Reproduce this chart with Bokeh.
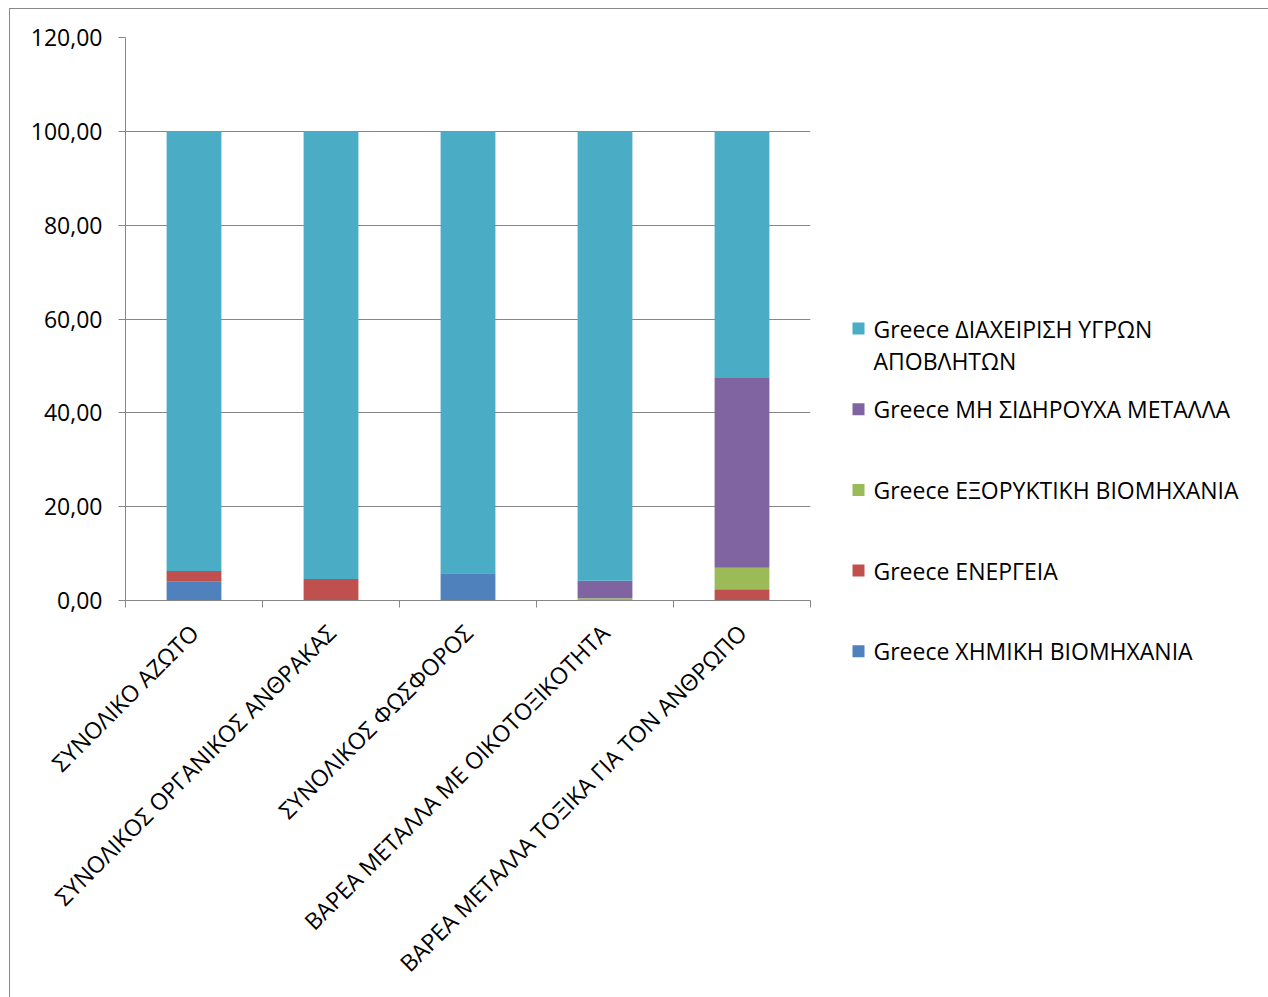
from bokeh.plotting import figure
from bokeh.layouts import row
from bokeh.models import FixedTicker, CustomJSTickFormatter, Range1d, ColumnDataSource
from bokeh.core.properties import value
from bokeh.embed import file_html
from bokeh.resources import INLINE
import math

categories = ["ΣΥΝΟΛΙΚΟ ΑΖΩΤΟ", "ΣΥΝΟΛΙΚΟΣ ΟΡΓΑΝΙΚΟΣ ΑΝΘΡΑΚΑΣ", "ΣΥΝΟΛΙΚΟΣ ΦΩΣΦΟΡΟΣ",
              "ΒΑΡΕΑ ΜΕΤΑΛΛΑ ΜΕ ΟΙΚΟΤΟΞΙΚΟΤΗΤΑ", "ΒΑΡΕΑ ΜΕΤΑΛΛΑ ΤΟΞΙΚΑ ΓΙΑ ΤΟΝ ΑΝΘΡΩΠΟ"]
chemical = [4.0, 0.0, 5.8, 0.0, 0.0]
energy = [2.3, 4.6, 0.0, 0.1, 2.4]
mining = [0.0, 0.0, 0.0, 0.4, 4.6]
nonferrous = [0.0, 0.0, 0.0, 3.7, 40.4]
wastewater = [93.7, 95.4, 94.2, 95.8, 52.6]

series_names = ["Greece ΧΗΜΙΚΗ ΒΙΟΜΗΧΑΝΙΑ", "Greece ΕΝΕΡΓΕΙΑ", "Greece ΕΞΟΡΥΚΤΙΚΗ ΒΙΟΜΗΧΑΝΙΑ",
                "Greece ΜΗ ΣΙΔΗΡΟΥΧΑ ΜΕΤΑΛΛΑ", "Greece ΔΙΑΧΕΙΡΙΣΗ ΥΓΡΩΝ\nΑΠΟΒΛΗΤΩΝ"]
colors = ["#4F81BD", "#C0504D", "#9BBB59", "#8064A2", "#4BACC6"]
y_ticks = [0, 20, 40, 60, 80, 100, 120]

FONT = "Open Sans"
GRAY = "#868686"
FS = "23px"

positions = [i + 0.5 for i in range(len(categories))]
keys = ["chemical", "energy", "mining", "nonferrous", "wastewater"]
source = ColumnDataSource(dict(x=positions, chemical=chemical, energy=energy, mining=mining,
                               nonferrous=nonferrous, wastewater=wastewater))

MAIN_W, TOTAL_W, TOTAL_H = 810, 1258, 988

p = figure(width=MAIN_W, height=TOTAL_H, min_border_left=115, min_border_top=28,
           min_border_bottom=TOTAL_H - 591, min_border_right=10,
           x_range=Range1d(0, len(categories)), y_range=Range1d(0, 120),
           output_backend="svg", toolbar_location=None, tools="")
p.frame_align = False
p.outline_line_color = None
p.background_fill_color = "white"
p.border_fill_color = "white"

rs = p.vbar_stack(keys, x="x", width=0.4, color=colors, line_color=None, source=source)

# y axis
p.yaxis.ticker = FixedTicker(ticks=y_ticks)
p.yaxis.formatter = CustomJSTickFormatter(code="return tick.toFixed(2).replace('.', ',');")
p.yaxis.axis_line_color = GRAY
p.yaxis.major_tick_line_color = GRAY
p.yaxis.major_tick_out = 7
p.yaxis.major_tick_in = 0
p.yaxis.minor_tick_line_color = None
p.yaxis.major_label_standoff = 16
p.yaxis.major_label_text_font = FONT
p.yaxis.major_label_text_font_size = FS
p.yaxis.major_label_text_color = "#000000"

# x axis: labels at category centres, tick marks at category boundaries
p.xaxis.ticker = FixedTicker(ticks=positions, minor_ticks=list(range(len(categories) + 1)))
p.xaxis.major_label_overrides = {pos: c for pos, c in zip(positions, categories)}
p.xaxis.major_label_orientation = math.pi / 4
p.xaxis.axis_line_color = GRAY
p.xaxis.major_tick_line_color = None
p.xaxis.minor_tick_line_color = GRAY
p.xaxis.minor_tick_out = 7
p.xaxis.minor_tick_in = 0
p.xaxis.major_tick_out = 7
p.xaxis.major_tick_in = 0
p.xaxis.major_label_standoff = 21
p.xaxis.major_label_text_font = FONT
p.xaxis.major_label_text_font_size = FS
p.xaxis.major_label_text_color = "#000000"

p.xgrid.grid_line_color = None
p.ygrid.grid_line_color = GRAY
p.ygrid.grid_line_width = 1

# legend panel (series listed top-down in reverse stacking order)
LEG_W = TOTAL_W - MAIN_W
leg = figure(width=LEG_W, height=TOTAL_H, x_range=Range1d(0, LEG_W), y_range=Range1d(TOTAL_H, 0),
             min_border=0, min_border_left=0, min_border_right=0, min_border_top=0, min_border_bottom=0,
             output_backend="svg", toolbar_location=None, tools="")
leg.frame_align = False
leg.axis.visible = False
leg.grid.visible = False
leg.outline_line_color = None
leg.background_fill_color = "white"
leg.border_fill_color = "white"

order = list(reversed(range(len(series_names))))
first_y, pitch, line_gap = 319, 80.7, 32
sq_x, sq_y, tx, ty, tt = [], [], [], [], []
sq_c = []
for k, i in enumerate(order):
    yc = first_y + pitch * k
    sq_x.append(38)
    sq_y.append(yc)
    sq_c.append(colors[i])
    for j, line in enumerate(series_names[i].split("\n")):
        tx.append(53)
        ty.append(yc + line_gap * j)
        tt.append(line)
leg.rect(x=sq_x, y=sq_y, width=12, height=12, fill_color=sq_c, line_color=None)
leg.text(x=tx, y=ty, text=tt, text_font=value(FONT), text_font_size=FS,
         text_baseline="middle", text_align="left", text_color="#000000")

layout = row(p, leg, spacing=0)
layout.styles = {"border-left": "1px solid #8a8a8a", "border-top": "1px solid #8a8a8a",
                 "margin-left": "9px", "margin-top": "8px"}

open("out.html", "w").write(file_html(layout, INLINE))
